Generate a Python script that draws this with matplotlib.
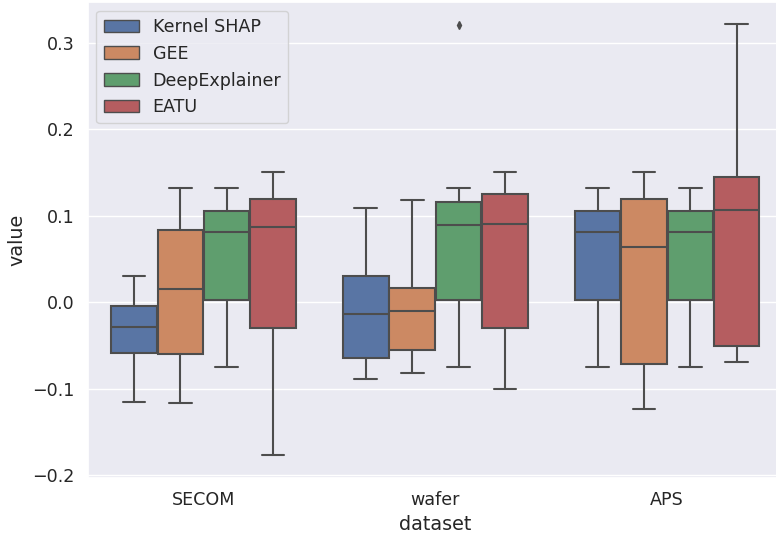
import matplotlib
matplotlib.use("Agg")
import matplotlib.pyplot as plt
import matplotlib.patches as mpatches
import seaborn as sns

datasets = ["SECOM", "wafer", "APS"]
methods = ["Kernel SHAP", "GEE", "DeepExplainer", "EATU"]

# box stats per dataset, in method order: [whislo, q1, med, q3, whishi]
secom = [
    [-0.115, -0.059, -0.029, -0.004, 0.030],
    [-0.116, -0.060, 0.015, 0.083, 0.132],
    [-0.075, 0.003, 0.081, 0.105, 0.132],
    [-0.177, -0.030, 0.087, 0.119, 0.150],
]
wafer = [
    [-0.089, -0.065, -0.014, 0.030, 0.109],
    [-0.082, -0.055, -0.010, 0.016, 0.118],
    [-0.075, 0.003, 0.089, 0.116, 0.132],
    [-0.100, -0.030, 0.091, 0.125, 0.150],
]
aps = [
    [-0.075, 0.003, 0.081, 0.106, 0.132],
    [-0.124, -0.072, 0.064, 0.119, 0.150],
    [-0.075, 0.003, 0.081, 0.106, 0.132],
    [-0.069, -0.051, 0.107, 0.145, 0.322],
]
# outliers: (dataset index, method index, value)
fliers = [(1, 2, 0.321)]

sns.set_theme(style="darkgrid", font_scale=1.15)

pal = [sns.desaturate(c, 0.75) for c in sns.color_palette("deep", 4)]
gray = (0.3, 0.3, 0.3)

fig, ax = plt.subplots(figsize=(7.76, 5.35), dpi=100)
fig.subplots_adjust(left=0.113, right=1.009, top=0.996, bottom=0.107)

n = len(methods)
w = 0.8 / n
for di, stats in enumerate([secom, wafer, aps]):
    for mi, s in enumerate(stats):
        pos = di - 0.4 + w * (mi + 0.5)
        fl = [v for (d, m, v) in fliers if d == di and m == mi]
        st = dict(whislo=s[0], q1=s[1], med=s[2], q3=s[3], whishi=s[4], fliers=fl)
        ax.bxp([st], positions=[pos], widths=w * 0.98, patch_artist=True,
               boxprops=dict(facecolor=pal[mi], edgecolor=gray, linewidth=1.5),
               whiskerprops=dict(color=gray, linewidth=1.5),
               capprops=dict(color=gray, linewidth=1.5),
               medianprops=dict(color=gray, linewidth=1.5),
               flierprops=dict(marker="d", markerfacecolor=gray, markeredgecolor=gray,
                               markersize=4))

ax.set_xlim(-0.5, 2.5)
ax.set_ylim(-0.203, 0.347)
ax.set_yticks([-0.2, -0.1, 0.0, 0.1, 0.2, 0.3])
ax.set_xticks(range(len(datasets)))
ax.set_xticklabels(datasets)
ax.grid(False, axis="x")
ax.set_xlabel("dataset")
ax.set_ylabel("value")

handles = [mpatches.Patch(facecolor=pal[i], edgecolor=gray, label=m) for i, m in enumerate(methods)]
ax.legend(handles=handles, loc="upper left")

fig.savefig("out.png", dpi=100)
